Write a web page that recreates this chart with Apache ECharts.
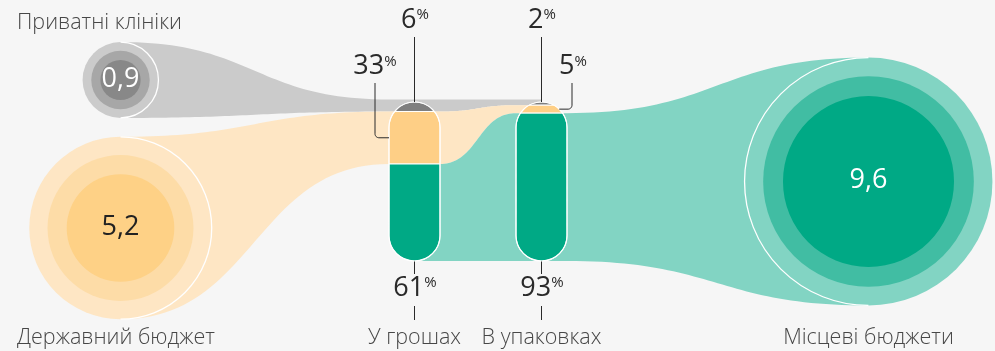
<!DOCTYPE html>
<html>
<head>
<meta charset="utf-8">
<script src="https://cdn.jsdelivr.net/npm/echarts@6/dist/echarts.min.js"></script>
<style>
  html, body { margin: 0; padding: 0; background: #f6f6f6; }
  #chart { width: 995px; height: 351px; }
</style>
</head>
<body>
<div id="chart"></div>
<script>
// Funding sources (UAH bn) and how each form of purchase is split between them
const sourceNames = ['Приватні клініки', 'Державний бюджет', 'Місцеві бюджети'];
const sourceValues = [0.9, 5.2, 9.6];
const sourceValueLabels = ['0,9', '5,2', '9,6'];
const targetNames = ['У грошах', 'В упаковках'];
// share of each source within a target, %  (order follows sourceNames)
const cashShares = [6, 33, 61];
const packShares = [2, 5, 93];
const targetShares = [cashShares, packShares];

// ---- layout (plot units == pixels) ----
const L = {
  centers: [[120.5, 80], [120.5, 228], [868.5, 181.5]],
  side: [1, 1, -1],                 // direction the stream leaves each circle
  kRadius: 40,                      // radius = kRadius * sqrt(value)
  rings: [[0.77, 0.53], [0.80, 0.59], [0.85, 0.69]],
  lift: [2.5, 0, 0],
  pillX: [414.5, 541.5],
  pillHalf: 25.5,
  pillTop: 102,
  pillBottom: 261,
  sideLeader: [-39.5, 30.5],
  labelY: { top: 20, side: 66.5, bottom: 288 },
  leaderFrom: { top: 37, side: 83 },
  bottomLeaders: [[261.5, 274], [306, 320]],
  nameMid: 338,
  topNameMid: 23,
  nameLeft: 17
};

const PALETTE = [
  { outer: '#cbcbcb', mid: '#a7a7a7', inner: '#888888', seg: '#7f7f7f', text: '#ffffff' },
  { outer: '#fee6c4', mid: '#fddca7', inner: '#fed186', seg: '#fecf86', text: '#222222' },
  { outer: '#82d4c3', mid: '#41bda3', inner: '#00a985', seg: '#00a985', text: '#ffffff' }
];
const FONT = '"Open Sans", "Noto Sans", sans-serif';
const INK = '#2a2a2a';
const NAME_INK = '#474747';
const NAME_FONT = '300 21.5px ' + FONT;
const NUM_FONT = '400 27px ' + FONT;
const PCT_FONT = '400 15px ' + FONT;

const measureCtx = document.createElement('canvas').getContext('2d');
function textWidth(text, font) { measureCtx.font = font; return measureCtx.measureText(text).width; }

function radius(i) { return L.kRadius * Math.sqrt(sourceValues[i]); }

function segment(shares, i) {
  const h = L.pillBottom - L.pillTop;
  let before = 0;
  for (let k = 0; k < i; k++) before += shares[k];
  const top = L.pillTop + before / 100 * h;
  return [top, top + shares[i] / 100 * h];
}

function capsuleHalf(y) {
  const r = L.pillHalf, t = L.pillTop + r, b = L.pillBottom - r;
  let d = 0;
  if (y < t) d = t - y; else if (y > b) d = y - b;
  return Math.sqrt(Math.max(0, r * r - d * d));
}

// stations a stream passes: [xEnter, xLeave, top, bottom]
function stations(i) {
  const [cx, cy] = L.centers[i];
  const r = radius(i);
  const st = [[cx, cx, cy - r, cy + r]];
  const dir = L.side[i];
  const order = dir > 0 ? [0, 1] : [1, 0];
  order.forEach((j, n) => {
    const seg = segment(targetShares[j], i);
    const pc = L.pillX[j];
    const enter = pc - dir * L.pillHalf;
    const leave = n === order.length - 1 ? pc : pc + dir * L.pillHalf;
    st.push([enter, leave, seg[0] - L.lift[i], seg[1]]);
  });
  return st;
}

function edge(st, k) {
  const N = 48;
  const pts = [[st[0][0], st[0][k]]];
  for (let s = 1; s < st.length; s++) {
    const x1 = st[s - 1][1], y1 = st[s - 1][k];
    const x2 = st[s][0], y2 = st[s][k];
    const xm = (x1 + x2) / 2;
    for (let t = 1; t <= N; t++) {
      const u = t / N, v = 1 - u;
      const b0 = v * v * v, b1 = 3 * v * v * u, b2 = 3 * v * u * u, b3 = u * u * u;
      pts.push([b0 * x1 + (b1 + b2) * xm + b3 * x2, (b0 + b1) * y1 + (b2 + b3) * y2]);
    }
    pts.push([st[s][1], st[s][k]]);
  }
  return pts;
}

function renderFlow(params, api) {
  const i = params.dataIndex;
  const st = stations(i);
  const poly = edge(st, 2).concat(edge(st, 3).reverse()).map(p => api.coord(p));
  return { type: 'polygon', shape: { points: poly }, style: { fill: PALETTE[i].outer } };
}

function renderSource(params, api) {
  const i = params.dataIndex;
  const c = api.coord(L.centers[i]);
  const r = api.size([radius(i), 0])[0];
  const pal = PALETTE[i];
  const right = L.side[i] > 0;
  const nameX = right ? api.coord([L.nameLeft, 0])[0] : c[0];
  const nameY = api.coord([0, i === 0 ? L.topNameMid : L.nameMid])[1];
  return {
    type: 'group',
    children: [
      { type: 'circle', shape: { cx: c[0], cy: c[1], r: r }, style: { fill: pal.outer } },
      { type: 'circle', shape: { cx: c[0], cy: c[1], r: r * L.rings[i][0] }, style: { fill: pal.mid } },
      { type: 'circle', shape: { cx: c[0], cy: c[1], r: r * L.rings[i][1] }, style: { fill: pal.inner } },
      {
        type: 'arc',
        shape: {
          cx: c[0], cy: c[1], r: r,
          startAngle: right ? -Math.PI / 2 : Math.PI / 2,
          endAngle: right ? Math.PI / 2 : Math.PI * 1.5,
          clockwise: true
        },
        style: { stroke: '#ffffff', lineWidth: 1.3, fill: null }
      },
      {
        type: 'text', x: c[0], y: c[1] - 1,
        style: { text: sourceValueLabels[i], fill: pal.text, font: '400 27px ' + FONT, align: 'center', verticalAlign: 'middle' }
      },
      {
        type: 'text', x: nameX, y: nameY,
        style: { text: sourceNames[i], fill: NAME_INK, font: NAME_FONT, align: right ? 'left' : 'center', verticalAlign: 'middle' }
      }
    ]
  };
}

function slicePoints(cx, y0, y1) {
  const n = 160;
  const rightSide = [], leftSide = [];
  for (let k = 0; k <= n; k++) {
    const y = y0 + (y1 - y0) * k / n;
    const w = capsuleHalf(y);
    rightSide.push([cx + w, y]);
    leftSide.push([cx - w, y]);
  }
  return rightSide.concat(leftSide.reverse());
}

function renderPill(params, api) {
  const j = params.dataIndex;
  const cx = L.pillX[j];
  const shares = targetShares[j];
  const children = shares.map((s, i) => {
    const seg = segment(shares, i);
    return {
      type: 'polygon',
      shape: { points: slicePoints(cx, seg[0], seg[1]).map(p => api.coord(p)) },
      style: { fill: PALETTE[i].seg, stroke: '#ffffff', lineWidth: 1 }
    };
  });
  const tl = api.coord([cx - L.pillHalf, L.pillTop]);
  const br = api.coord([cx + L.pillHalf, L.pillBottom]);
  children.push({
    type: 'rect',
    shape: { x: tl[0], y: tl[1], width: br[0] - tl[0], height: br[1] - tl[1], r: (br[0] - tl[0]) / 2 },
    style: { fill: null, stroke: '#ffffff', lineWidth: 1.2 }
  });
  const nb = api.coord([cx, L.nameMid]);
  children.push({
    type: 'text', x: nb[0], y: nb[1],
    style: { text: targetNames[j], fill: NAME_INK, font: NAME_FONT, align: 'center', verticalAlign: 'middle' }
  });
  return { type: 'group', children: children };
}

// number with a raised "%" sign, the pair centred on (x, y)
function pctText(x, y, v) {
  const num = String(v);
  const wn = textWidth(num, NUM_FONT);
  const wp = textWidth('%', PCT_FONT);
  const x0 = x - (wn + wp) / 2 + 0.5;
  return {
    type: 'group',
    children: [
      { type: 'text', x: x0, y: y, style: { text: num, font: NUM_FONT, fill: INK, align: 'left', verticalAlign: 'middle' } },
      { type: 'text', x: x0 + wn, y: y - 5, style: { text: '%', font: PCT_FONT, fill: INK, align: 'left', verticalAlign: 'middle' } }
    ]
  };
}

function line(api, pts) {
  return { type: 'polyline', shape: { points: pts.map(p => api.coord(p)) }, style: { stroke: INK, lineWidth: 1, fill: null } };
}

// one callout per (target, source)
const callouts = [];
targetShares.forEach((shares, j) => shares.forEach((v, i) => callouts.push([j, i, v])));

function renderCallout(params, api) {
  const [j, i, v] = callouts[params.dataIndex];
  const cx = L.pillX[j];
  const seg = segment(targetShares[j], i);
  const kids = [];
  if (i === 0) {
    kids.push(pctText(...api.coord([cx, L.labelY.top]), v));
    kids.push(line(api, [[cx, L.leaderFrom.top], [cx, seg[0]]]));
  } else if (i === 1) {
    const lx = cx + L.sideLeader[j];
    const ym = (seg[0] + seg[1]) / 2;
    const d = L.sideLeader[j] < 0 ? 1 : -1;   // towards the pill
    const c = 4;
    const pts = [[lx, L.leaderFrom.side], [lx, ym - c]];
    for (let k = 1; k <= 8; k++) {
      const a = k / 8 * Math.PI / 2;
      pts.push([lx + d * c * (1 - Math.cos(a)), ym - c + c * Math.sin(a)]);
    }
    pts.push([cx - d * capsuleHalf(ym), ym]);
    kids.push(pctText(...api.coord([lx - 0.5 * d, L.labelY.side]), v));
    kids.push(line(api, pts));
  } else {
    kids.push(pctText(...api.coord([cx, L.labelY.bottom]), v));
    L.bottomLeaders.forEach(b => kids.push(line(api, [[cx, b[0]], [cx, b[1]]])));
  }
  return { type: 'group', children: kids };
}

const chart = echarts.init(document.getElementById('chart'));
chart.setOption({
  backgroundColor: '#f6f6f6',
  animation: false,
  grid: { left: 0, right: 0, top: 0, bottom: 0, outerBoundsMode: 'none' },
  xAxis: { type: 'value', min: 0, max: 995, show: false },
  yAxis: { type: 'value', min: 0, max: 351, inverse: true, show: false },
  series: [
    { type: 'custom', name: 'streams', clip: false, silent: true, renderItem: renderFlow,
      data: sourceValues.map((v, i) => [i, v]) },
    { type: 'custom', name: 'sources', clip: false, silent: true, renderItem: renderSource,
      data: sourceValues.map((v, i) => [i, v]) },
    { type: 'custom', name: 'targets', clip: false, silent: true, renderItem: renderPill,
      data: targetNames.map((n, j) => [j, 100]) },
    { type: 'custom', name: 'shares', clip: false, silent: true, renderItem: renderCallout,
      data: callouts.map(c => [c[0], c[2]]) }
  ]
});
</script>
</body>
</html>
